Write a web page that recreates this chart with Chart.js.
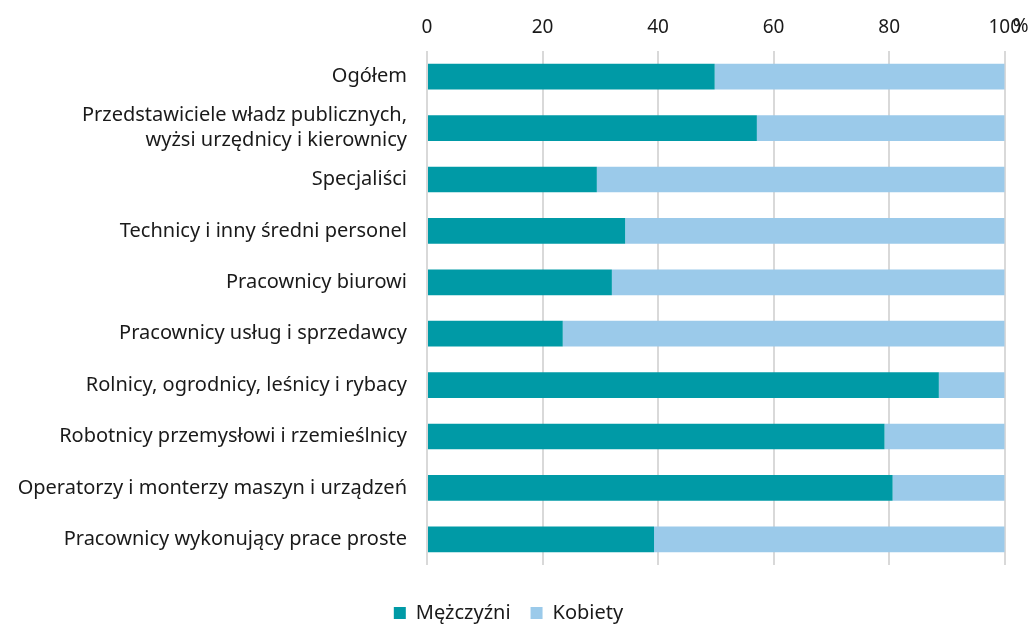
<!DOCTYPE html>
<html>
<head>
<meta charset="utf-8">
<script src="https://cdn.jsdelivr.net/npm/chart.js@4.4.1/dist/chart.umd.min.js"></script>
<style>
html,body{margin:0;padding:0;background:#fff;}
#wrap{width:1033px;height:625px;position:relative;}
</style>
</head>
<body>
<div id="wrap"><canvas id="c" width="1033" height="625"></canvas></div>
<script>
const categories = [
  "Ogółem",
  ["Przedstawiciele władz publicznych,", "wyżsi urzędnicy i kierownicy"],
  "Specjaliści",
  "Technicy i inny średni personel",
  "Pracownicy biurowi",
  "Pracownicy usług i sprzedawcy",
  "Rolnicy, ogrodnicy, leśnicy i rybacy",
  "Robotnicy przemysłowi i rzemieślnicy",
  "Operatorzy i monterzy maszyn i urządzeń",
  "Pracownicy wykonujący prace proste"
];
const men   = [49.8, 57.1, 29.4, 34.3, 32.0, 23.5, 88.6, 79.2, 80.6, 39.3];
const women = [50.2, 42.9, 70.6, 65.7, 68.0, 76.5, 11.4, 20.8, 19.4, 60.7];
const xTicks = [0, 20, 40, 60, 80, 100];
const seriesNames = ["Mężczyźni", "Kobiety"];

const FONT = "'Noto Sans', 'Open Sans', sans-serif";
const TXT = "#1a1a1a";

const percentPlugin = {
  id: 'percentLabel',
  afterLayout(chart) {
    if (chart.legend) { chart.legend.left += 6; chart.legend.right += 6; }
  },
  afterDraw(chart) {
    const ctx = chart.ctx;
    const x = chart.scales.x;
    ctx.save();
    ctx.font = "19px " + FONT;
    ctx.fillStyle = TXT;
    ctx.textAlign = "left";
    ctx.textBaseline = "middle";
    ctx.fillText("%", x.getPixelForValue(100) + 8, 27);
    ctx.restore();
  }
};

new Chart(document.getElementById('c'), {
  type: 'bar',
  data: {
    labels: categories,
    datasets: [
      { label: seriesNames[0], data: men, backgroundColor: '#009AA6', borderWidth: 0, barPercentage: 0.5, categoryPercentage: 1.0 },
      { label: seriesNames[1], data: women, backgroundColor: '#9BCAEA', borderWidth: 0, barPercentage: 0.5, categoryPercentage: 1.0 }
    ]
  },
  options: {
    indexAxis: 'y',
    responsive: false,
    animation: false,
    layout: { padding: { left: 0, right: 28, top: 0, bottom: -8 } },
    scales: {
      x: {
        position: 'top',
        stacked: true,
        min: 0, max: 100,
        afterBuildTicks(s) { s.ticks = xTicks.map(v => ({ value: v })); },
        afterFit(s) { s.height = 51; },
        grid: { color: '#d9d9d9', lineWidth: 2, drawTicks: false },
        border: { display: false },
        ticks: { color: TXT, font: { family: FONT, size: 19 }, padding: 12, maxRotation: 0 }
      },
      y: {
        stacked: true,
        afterFit(s) { s.width = 427; },
        grid: { display: false },
        border: { display: false },
        ticks: { color: TXT, font: { family: FONT, size: 20, lineHeight: 1.25 }, padding: 12, crossAlign: 'near', autoSkip: false }
      }
    },
    plugins: {
      legend: {
        position: 'bottom',
        title: { display: true, text: ' ', font: { size: 10 }, padding: { top: 6, bottom: 0 } },
        labels: { color: TXT, font: { family: FONT, size: 20 }, boxWidth: 12, boxHeight: 12, padding: 20 }
      },
      tooltip: { enabled: false }
    }
  },
  plugins: [percentPlugin]
});
</script>
</body>
</html>
